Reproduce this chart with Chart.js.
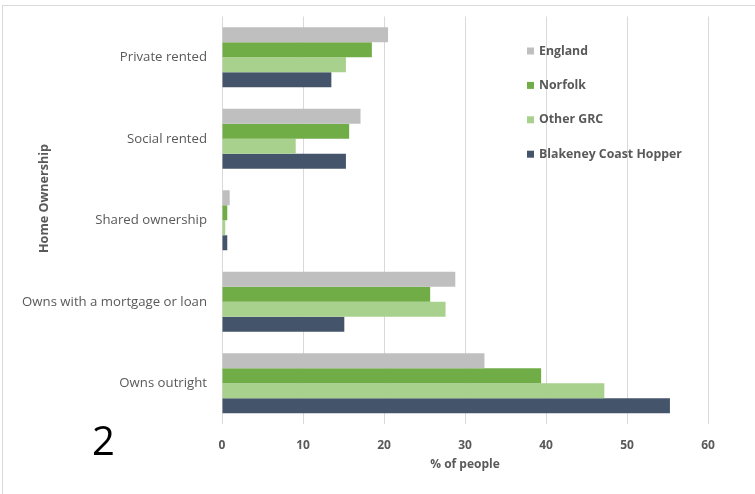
<!DOCTYPE html>
<html>
<head>
<meta charset="utf-8">
<script src="https://cdn.jsdelivr.net/npm/chart.js@4"></script>
<style>
  html, body { margin: 0; padding: 0; background: #fff; }
  #wrap { position: relative; width: 755px; height: 494px; }
  #frame { position: absolute; left: 2px; top: 5px; right: 0; bottom: 0;
           border-left: 1px solid #d9d9d9; border-top: 1px solid #d9d9d9; }
  #tag { position: absolute; left: 92px; top: 412px; font: 40px "Open Sans", sans-serif; color: #000; }
</style>
</head>
<body>
<div id="wrap">
  <div id="frame"></div>
  <canvas id="home-chart" width="755" height="494"></canvas>
  <div id="tag">2</div>
</div>
<script>
const categories = ["Private rented", "Social rented", "Shared ownership", "Owns with a mortgage or loan", "Owns outright"];
const seriesNames = ["England", "Norfolk", "Other GRC", "Blakeney Coast Hopper"];
const seriesColors = ["#bfbfbf", "#70ad47", "#a9d18e", "#44546a"];
const england = [20.5, 17.1, 0.95, 28.8, 32.4];
const norfolk = [18.5, 15.7, 0.65, 25.7, 39.4];
const otherGrc = [15.3, 9.1, 0.4, 27.6, 47.2];
const blakeney = [13.5, 15.3, 0.65, 15.1, 55.3];
const xTicks = [0, 10, 20, 30, 40, 50, 60];

const textGrey = "#595959";
const values = [england, norfolk, otherGrc, blakeney];

// legend + rotated y title drawn by hand to sit where the original has them
const extras = {
  id: "extras",
  afterDraw(chart) {
    const c = chart.ctx;
    c.save();
    c.font = "bold 12.3px 'Open Sans'";
    c.textBaseline = "middle";
    seriesNames.forEach((name, i) => {
      const y = 51 + i * 34.4;
      c.fillStyle = seriesColors[i];
      c.fillRect(527, y - 3.5, 7, 7);
      c.fillStyle = textGrey;
      c.textAlign = "left";
      c.fillText(name, 539, y);
    });
    c.font = "bold 12.6px 'Open Sans'";
    c.translate(44, 198.5);
    c.rotate(-Math.PI / 2);
    c.textAlign = "center";
    c.fillText("Home Ownership", 0, 0);
    c.restore();
  }
};

new Chart(document.getElementById("home-chart"), {
  type: "bar",
  data: {
    labels: categories,
    datasets: seriesNames.map((name, i) => ({
      label: name,
      data: values[i],
      backgroundColor: seriesColors[i],
      borderWidth: 0,
      categoryPercentage: 0.735,
      barPercentage: 1
    }))
  },
  options: {
    indexAxis: "y",
    responsive: false,
    animation: false,
    layout: { padding: { top: 16.5, right: 47, bottom: 0, left: 0 } },
    plugins: { legend: { display: false }, tooltip: { enabled: false } },
    scales: {
      x: {
        min: 0,
        max: 60,
        afterBuildTicks: s => { s.ticks = xTicks.map(v => ({ value: v })); },
        afterFit: s => { s.height = 70; },
        grid: { color: "#d9d9d9", drawTicks: false },
        border: { display: false },
        ticks: { padding: 14, color: textGrey, font: { family: "Open Sans", size: 12, weight: "bold" } },
        title: {
          display: true,
          text: "% of people",
          color: textGrey,
          font: { family: "Open Sans", size: 12, weight: "bold" },
          padding: { top: 0, bottom: 22 }
        }
      },
      y: {
        afterFit: s => { s.width = 222; s.paddingTop = 0; s.paddingBottom = 0; },
        grid: { display: false, drawTicks: true, tickLength: 15 },
        border: { display: false },
        ticks: { padding: 0, color: textGrey, font: { family: "Open Sans", size: 13.2 } }
      }
    }
  },
  plugins: [extras]
});
</script>
</body>
</html>
